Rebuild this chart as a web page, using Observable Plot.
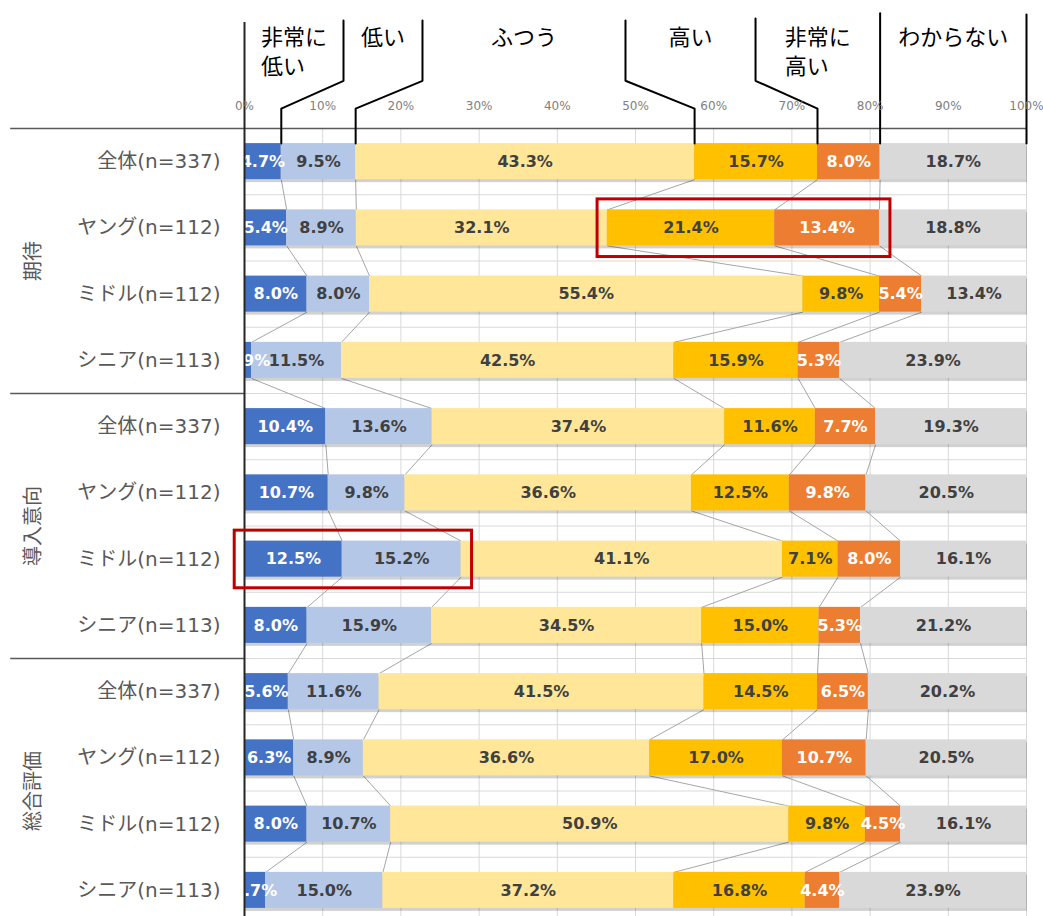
<!DOCTYPE html>
<html>
<head>
<meta charset="utf-8">
<script src="https://cdn.jsdelivr.net/npm/d3@7"></script>
<script src="https://cdn.jsdelivr.net/npm/@observablehq/plot@0.6"></script>
<style>
  html, body { margin: 0; padding: 0; background: #fff; overflow: hidden; }
</style>
</head>
<body>
<div id="chart"></div>
<script>
// ---------- data ----------
const categories = ["非常に低い", "低い", "ふつう", "高い", "非常に高い", "わからない"];
const headerLabels = ["非常に\n低い", "低い", "ふつう", "高い", "非常に\n高い", "わからない"];
const groups = ["期待", "導入意向", "総合評価"];
const rowLabels = ["全体(n=337)", "ヤング(n=112)", "ミドル(n=112)", "シニア(n=113)"];
const expectValues = [
  [4.7, 9.5, 43.3, 15.7, 8.0, 18.7],
  [5.4, 8.9, 32.1, 21.4, 13.4, 18.8],
  [8.0, 8.0, 55.4, 9.8, 5.4, 13.4],
  [0.9, 11.5, 42.5, 15.9, 5.3, 23.9]
];
const intentValues = [
  [10.4, 13.6, 37.4, 11.6, 7.7, 19.3],
  [10.7, 9.8, 36.6, 12.5, 9.8, 20.5],
  [12.5, 15.2, 41.1, 7.1, 8.0, 16.1],
  [8.0, 15.9, 34.5, 15.0, 5.3, 21.2]
];
const overallValues = [
  [5.6, 11.6, 41.5, 14.5, 6.5, 20.2],
  [6.3, 8.9, 36.6, 17.0, 10.7, 20.5],
  [8.0, 10.7, 50.9, 9.8, 4.5, 16.1],
  [2.7, 15.0, 37.2, 16.8, 4.4, 23.9]
];
const tickValues = [0, 10, 20, 30, 40, 50, 60, 70, 80, 90, 100];
const tickLabels = ["0%", "10%", "20%", "30%", "40%", "50%", "60%", "70%", "80%", "90%", "100%"];
// highlighted segment ranges: [row index, first category, last category]
const highlights = [[1, 3, 4], [6, 0, 1]];

// ---------- styles / layout ----------
const colors = ["#4472C4", "#B4C7E7", "#FFE699", "#FFC000", "#ED7D31", "#D9D9D9"];
const whiteText = new Set([0, 4]);
const W = 1043, H = 916;
const barTop = 0.228, barBot = 0.772;              // bar extent within a row (row units)
const headerTopPct = [0, 12.66, 22.76, 48.72, 65.35, null, 100]; // where header dividers start
const headerTopY = [-1.60, -1.63, -1.63, -1.63, -1.66, -1.74, -1.72];
const bendY = -0.72, kneeY = -0.30;

// ---------- derived tables ----------
const allValues = [expectValues, intentValues, overallValues];
const rows = [];
allValues.forEach((gv, g) => gv.forEach((vals, r) => {
  const sum = d3.sum(vals);
  const cum = [0];
  vals.forEach(v => cum.push(cum[cum.length - 1] + v / sum * 100));
  rows.push({i: g * 4 + r, g, label: rowLabels[r], vals, cum});
}));
const segs = [];
rows.forEach(row => row.vals.forEach((v, k) => segs.push({
  i: row.i, k, cat: categories[k], v, x1: row.cum[k], x2: row.cum[k + 1]
})));
const links = [];
for (let i = 0; i < rows.length - 1; i++) {
  for (let k = 1; k < categories.length; k++) {
    links.push({x1: rows[i].cum[k], x2: rows[i + 1].cum[k], y1: i + barBot, y2: i + 1 + barTop});
  }
}
// header divider polylines
const headerPts = [];
const first = rows[0].cum;
headerTopPct.forEach((tx, k) => {
  const bx = first[k];
  if (k === 0) return;
  if (tx === null || k === 6) {
    const x = k === 6 ? 100 : bx;
    headerPts.push({k, x, y: headerTopY[k]}, {k, x, y: barTop});
  } else {
    headerPts.push({k, x: tx, y: headerTopY[k]}, {k, x: tx, y: bendY},
                   {k, x: bx, y: kneeY}, {k, x: bx, y: barTop});
  }
});
const headerBounds = headerTopPct.map((t, k) => t === null ? first[k] : t);
const headerText = headerLabels.map((t, k) => ({
  t, k, x: (headerBounds[k] + headerBounds[k + 1]) / 2, multi: t.includes("\n")
}));

const font = "'DejaVu Sans', 'Noto Sans CJK JP', sans-serif";
const cjk = "'Noto Sans CJK JP', sans-serif";

const chart = Plot.plot({
  width: W, height: H,
  marginLeft: 244, marginRight: 17, marginTop: 128, marginBottom: 0,
  style: {fontFamily: font, background: "#fff", overflow: "visible"},
  x: {domain: [0, 100], axis: null},
  y: {domain: [0, 12], range: [128, 128 + 12 * 66.25], axis: null},
  color: {domain: categories, range: colors},
  marks: [
    // grid
    Plot.ruleX(tickValues, {x: d => d, y1: 0, y2: 12.2, stroke: "#d9d9d9", strokeWidth: 1}),
    Plot.ruleY(d3.range(1, 12), {y: d => d, x1: 0, x2: 100, stroke: "#d9d9d9", strokeWidth: 1}),
    // connectors
    Plot.link(links, {x1: "x1", x2: "x2", y1: "y1", y2: "y2", stroke: "#a6a6a6", strokeWidth: 1}),
    // shadows
    Plot.rect(rows, {x1: 0, x2: 100, y1: d => d.i + barTop, y2: d => d.i + barBot, dx: 1, dy: 3, fill: "#000", fillOpacity: 0.18}),
    // bars
    Plot.rect(segs, {x1: "x1", x2: "x2", y1: d => d.i + barTop, y2: d => d.i + barBot, fill: "cat"}),
    // value labels
    Plot.text(segs.filter(d => !whiteText.has(d.k)), {
      x: d => (d.x1 + d.x2) / 2, y: d => d.i + 0.5, text: d => d.v.toFixed(1) + "%",
      fill: "#404040", fontSize: 16, fontWeight: "bold", fontFamily: font, clip: true
    }),
    Plot.text(segs.filter(d => whiteText.has(d.k)), {
      x: d => (d.x1 + d.x2) / 2, y: d => d.i + 0.5, text: d => d.v.toFixed(1) + "%",
      fill: "#fff", fontSize: 16, fontWeight: "bold", fontFamily: font, clip: true
    }),
    // separators
    Plot.ruleY([0, 4, 8], {y: d => d, x1: -29.9, x2: d => d === 0 ? 100 : 0, stroke: "#595959", strokeWidth: 1.5}),
    // left axis
    Plot.ruleX([0], {x: d => d, y1: headerTopY[0], y2: 12.2, stroke: "#262626", strokeWidth: 2}),
    // header dividers
    Plot.line(headerPts, {x: "x", y: "y", z: "k", stroke: "#000", strokeWidth: 2, curve: "linear"}),
    // header labels
    Plot.text(headerText.filter(d => !d.multi), {
      x: "x", y: -1.374, text: "t", fontSize: 22, fill: "#000", fontFamily: cjk
    }),
    Plot.text(headerText.filter(d => d.multi), {
      x: "x", y: -1.374, text: d => d.t.split("\n")[0], dx: -33, textAnchor: "start",
      fontSize: 22, fill: "#000", fontFamily: cjk
    }),
    Plot.text(headerText.filter(d => d.multi), {
      x: "x", y: -0.93, text: d => d.t.split("\n")[1], dx: -33, textAnchor: "start",
      fontSize: 22, fill: "#000", fontFamily: cjk
    }),
    // tick labels
    Plot.text(tickValues, {x: d => d, y: -0.33, text: (d, i) => tickLabels[i], fontSize: 12, fill: "#808080", fontFamily: font}),
    // row labels
    Plot.text(rows, {x: 0, y: d => d.i + 0.5, dx: -24, text: "label", textAnchor: "end", fontSize: 20, fill: "#595959", fontFamily: font}),
    // group labels
    Plot.text(groups, {x: 0, y: (d, g) => g * 4 + 2, dx: -211, text: d => d, rotate: -90, fontSize: 20, fill: "#595959", fontFamily: cjk}),
    // highlights
    Plot.rect(highlights, {
      x1: d => rows[d[0]].cum[d[1]] - 1.25, x2: d => rows[d[0]].cum[d[2] + 1] + 1.4,
      y1: d => d[0] + 0.07, y2: d => d[0] + 0.94,
      fill: "none", stroke: "#C00000", strokeWidth: 3
    })
  ]
});
document.getElementById("chart").appendChild(chart);
</script>
</body>
</html>
